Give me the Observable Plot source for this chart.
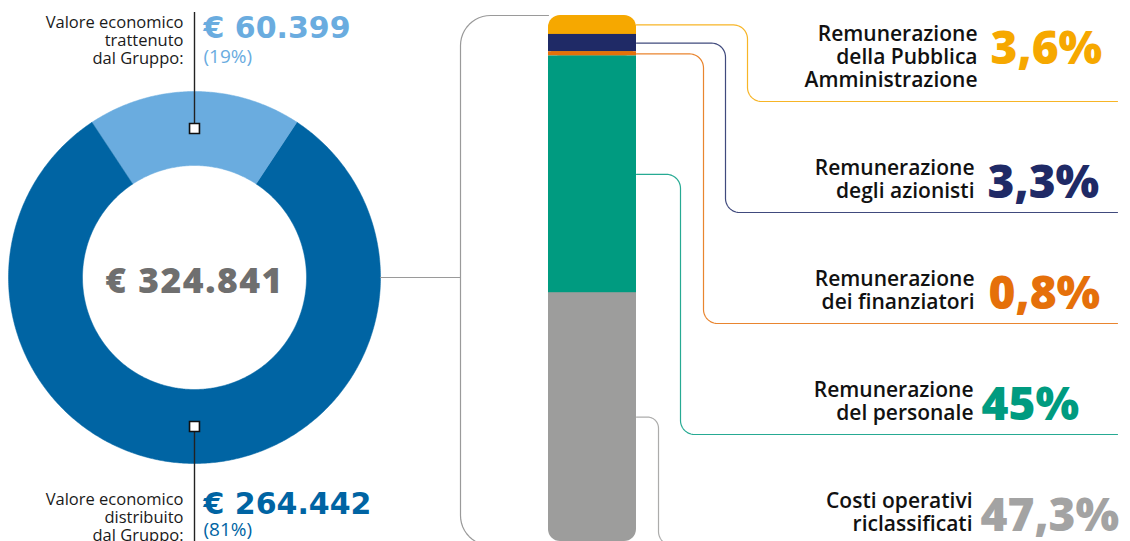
<!DOCTYPE html>
<html><head><meta charset="utf-8">
<script src="https://cdn.jsdelivr.net/npm/d3@7"></script>
<script src="https://cdn.jsdelivr.net/npm/@observablehq/plot@0.6"></script>
<style>html,body{margin:0;padding:0;background:#fff;overflow:hidden} svg{display:block}</style>
</head><body><div id="chart"></div>
<script>
// ---- Donut data ----
const donutLabels = ["Valore economico\ntrattenuto\ndal Gruppo:", "Valore economico\ndistribuito\ndal Gruppo:"];
const donutValues = [60399, 264442];
const donutValueLabels = ["€ 60.399", "€ 264.442"];
const donutShareLabels = ["(19%)", "(81%)"];
const donutColors = ["#6aacdf", "#0064a3"];
const donutTotalLabel = "€ 324.841";

// ---- Bar data ----
const barCategories = ["Remunerazione\ndella Pubblica\nAmministrazione", "Remunerazione\ndegli azionisti", "Remunerazione\ndei finanziatori", "Remunerazione\ndel personale", "Costi operativi\nriclassificati"];
const barShares = [3.6, 3.3, 0.8, 45, 47.3];
const barShareLabels = ["3,6%", "3,3%", "0,8%", "45%", "47,3%"];
const barColors = ["#f6a800", "#1f2a66", "#e5700a", "#009b80", "#9d9d9c"];
const barValueColors = ["#f6a800", "#1f2a66", "#e5700a", "#009b80", "#a3a3a3"];

// ---- Layout ----
const W = 1130, H = 541;
const cx = 194, cy = 277, R = 186, R0 = 112;
const barX1 = 548, barX2 = 636, barTop = 15, barBottom = 541;
const rowY = [101, 212, 323, 434, 545];
const vertX = [747, 725, 703, 680, 658];
const valueXs = [990, 987, 988, 981, 980];
const labelXs = [977, 974, 974, 973, 972];
const lineEndX = 1117;
const py = d3.scaleLinear([barTop, barBottom], [0, 100]); // pixel -> y units

// donut slices
const total = d3.sum(donutValues);
const a0 = -Math.PI * donutValues[0] / total;
const arcs = d3.pie().sort(null).startAngle(a0).endAngle(a0 + 2 * Math.PI)(donutValues);
function ringPts(s, e, k) {
  const n = Math.max(8, Math.ceil((e - s) / 0.01));
  const pts = [];
  for (let i = 0; i <= n; i++) { const a = s + (e - s) * i / n; pts.push([cx + R * Math.sin(a), cy - R * Math.cos(a)]); }
  for (let i = n; i >= 0; i--) { const a = s + (e - s) * i / n; pts.push([cx + R0 * Math.sin(a), cy - R0 * Math.cos(a)]); }
  return pts.map(([x, y]) => ({x, y: py(y), k}));
}
const markers = arcs.map((d, i) => {
  const a = (d.startAngle + d.endAngle) / 2, rm = (R + R0) / 2;
  return {x: cx + rm * Math.sin(a), y: cy - rm * Math.cos(a), i};
});

// rounded polyline
function rounded(points, r) {
  const out = [points[0]];
  for (let i = 1; i < points.length - 1; i++) {
    const [p0, p, p1] = [points[i - 1], points[i], points[i + 1]];
    const li = Math.hypot(p[0] - p0[0], p[1] - p0[1]), lo = Math.hypot(p1[0] - p[0], p1[1] - p[1]);
    const ui = [(p[0] - p0[0]) / li, (p[1] - p0[1]) / li], uo = [(p1[0] - p[0]) / lo, (p1[1] - p[1]) / lo];
    const rr = Math.min(r, li / 2, lo / 2);
    const c = [p[0] - ui[0] * rr + uo[0] * rr, p[1] - ui[1] * rr + uo[1] * rr];
    for (let t = 0; t <= 12; t++) {
      const th = t / 12 * Math.PI / 2;
      out.push([c[0] - uo[0] * rr * Math.cos(th) + ui[0] * rr * Math.sin(th), c[1] - uo[1] * rr * Math.cos(th) + ui[1] * rr * Math.sin(th)]);
    }
  }
  out.push(points[points.length - 1]);
  return out;
}

// bar stacking
const cum = d3.cumsum(barShares);
const segs = barShares.map((v, i) => ({i, y1: i ? cum[i - 1] : 0, y2: cum[i], color: barColors[i]}));

const connectors = segs.map((s, i) => {
  const ymid = barTop + (barBottom - barTop) * ((s.y1 + s.y2) / 2) / 100;
  return rounded([[barX2, ymid], [vertX[i], ymid], [vertX[i], rowY[i]], [lineEndX, rowY[i]]], 14)
    .map(([x, y]) => ({x, y: py(y), i}));
});
const bracket = rounded([[barX1, barTop], [460, barTop], [460, 545], [barX1, 545]], 30).map(([x, y]) => ({x, y: py(y)}));
const feed = [{x: cx + R, y: py(cy)}, {x: 460, y: py(cy)}];

const rows = barCategories.map((c, i) => {
  const n = c.split("\n").length;
  const base = rowY[i] - 15;
  return {label: c, value: barShareLabels[i], color: barValueColors[i], xl: labelXs[i], xv: valueXs[i], yl: py(base), yv: py(base - Math.max(0, n - 2) * 22.8)};
});

const labelFont = "Open Sans";
const numFont = "Open Sans";
const donutNumFont = "DejaVu Sans";

const marks = [
  // donut
  ...arcs.map((d, i) => Plot.line(ringPts(d.startAngle, d.endAngle, i), {x: "x", y: "y", fill: donutColors[i], stroke: donutColors[i], strokeWidth: 0.5, curve: "linear"})),
  Plot.line(feed, {x: "x", y: "y", stroke: "#9a9a9a", strokeWidth: 1.2}),
  Plot.line(bracket, {x: "x", y: "y", stroke: "#9a9a9a", strokeWidth: 1.2}),
  // marker stems
  Plot.ruleX([markers[0]], {x: "x", y1: py(barTop - 3), y2: (d) => py(d.y), stroke: "#222", strokeWidth: 1.4}),
  Plot.ruleX([markers[1]], {x: "x", y1: (d) => py(d.y), y2: py(H + 5), stroke: "#222", strokeWidth: 1.4}),
  Plot.dot(markers, {x: "x", y: (d) => py(d.y), symbol: "square", r: 5.6, fill: "white", stroke: "#111", strokeWidth: 1.6}),
  // connectors
  ...connectors.map((c, i) => Plot.line(c, {x: "x", y: "y", stroke: barColors[i], strokeOpacity: 0.85, strokeWidth: 1.2})),
  // bar: rounded caps then middle segments
  Plot.rect([segs[0]], {x1: barX1, x2: barX2, y1: "y1", y2: (d) => segs[2].y2, fill: "color", rx: 12}),
  Plot.rect([segs[4]], {x1: barX1, x2: barX2, y1: (d) => segs[3].y1, y2: "y2", fill: "color", rx: 12}),
  Plot.rect(segs.slice(1, 4), {x1: barX1, x2: barX2, y1: "y1", y2: "y2", fill: "color"}),
  // donut texts
  Plot.text([0, 1], {x: 183, y: (i) => py([63, 540][i]), text: (i) => donutLabels[i], textAnchor: "end", lineAnchor: "bottom", fontSize: 16.5, lineHeight: 1.07, fill: "#1a1a1a", fontFamily: labelFont}),
  Plot.text([0, 1], {x: 203, y: (i) => py([37, 513][i]), text: (i) => donutValueLabels[i], textAnchor: "start", lineAnchor: "bottom", fontSize: 30, fontWeight: 700, fill: (i) => donutColors[i], fontFamily: donutNumFont}),
  Plot.text([0, 1], {x: 203, y: (i) => py([62, 535][i]), text: (i) => donutShareLabels[i], textAnchor: "start", lineAnchor: "bottom", fontSize: 19, fill: (i) => donutColors[i], fontFamily: labelFont}),
  Plot.text([donutTotalLabel], {x: cx, y: py(292), text: (d) => d, textAnchor: "middle", lineAnchor: "bottom", fontSize: 35.5, fontWeight: 800, fill: "#6f6f6f", fontFamily: numFont}),
  // bar texts
  Plot.text(rows, {x: "xl", y: "yl", text: "label", textAnchor: "end", lineAnchor: "bottom", fontSize: 21, fontWeight: 600, lineHeight: 1.085, fill: "#111", fontFamily: labelFont}),
  Plot.text(rows, {x: "xv", y: "yv", text: "value", textAnchor: "start", lineAnchor: "bottom", fontSize: 46, fontWeight: 800, fill: "color", fontFamily: numFont})
];

const chart = Plot.plot({
  width: W, height: H,
  marginTop: 0, marginRight: 0, marginBottom: 0, marginLeft: 0,
  x: {domain: [0, W], range: [0, W], axis: null},
  y: {domain: [0, 100], range: [barTop, barBottom], axis: null},
  color: {type: "identity"},
  style: {background: "white", overflow: "hidden"},
  marks
});
// slight tracking on the total, as in the original artwork
d3.select(chart).selectAll("g").filter(function () { return this.getAttribute("font-size") === "35.5"; }).attr("letter-spacing", "1.5px");
document.getElementById("chart").append(chart);
</script>
</body></html>
